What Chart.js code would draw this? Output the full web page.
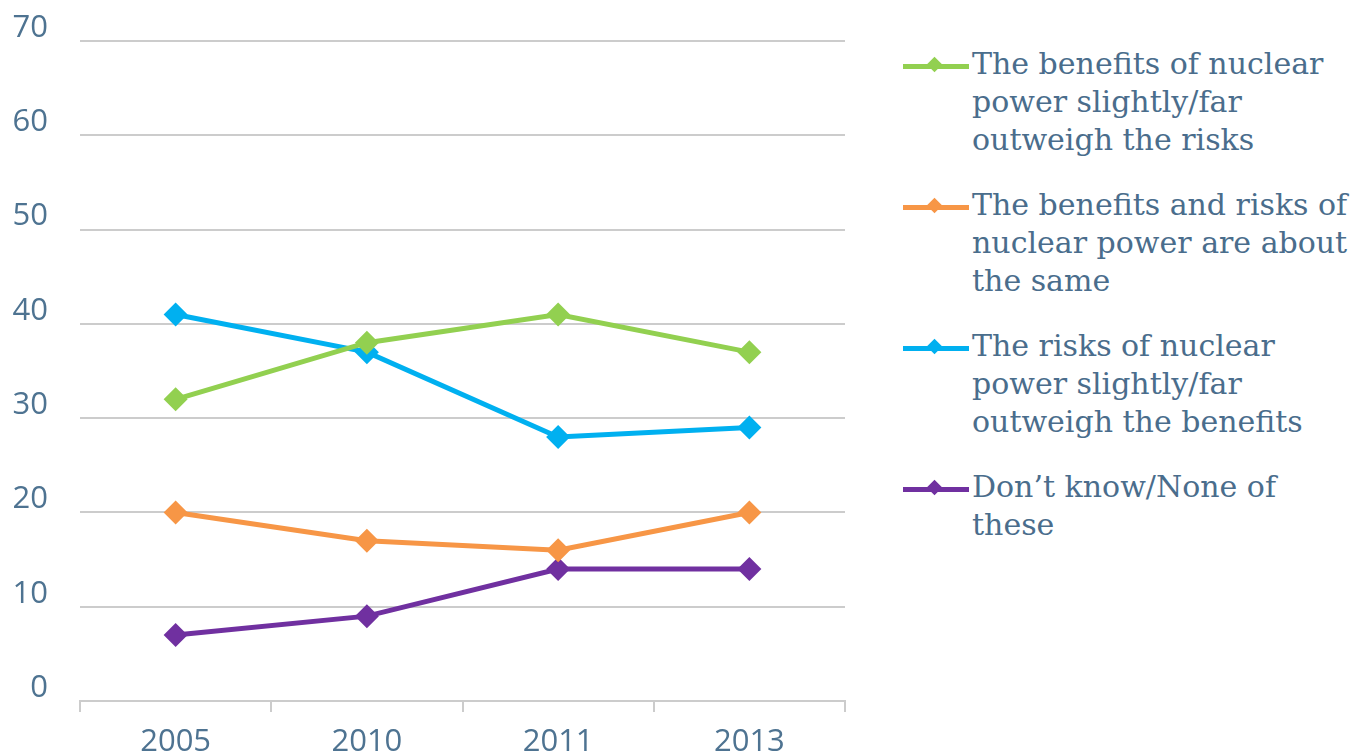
<!DOCTYPE html>
<html>
<head>
<meta charset="utf-8">
<script src="https://cdn.jsdelivr.net/npm/chart.js@4.4.1/dist/chart.umd.min.js"></script>
<style>
  html, body { margin: 0; padding: 0; background: #fff; }
  #wrap { position: relative; width: 1353px; height: 752px; overflow: hidden; }
  #chartBox { position: absolute; left: 0; top: 0; width: 870px; height: 752px; }
  #legend { position: absolute; left: 903px; top: 45px; width: 450px;
    font-family: "DejaVu Serif", serif; font-size: 30px;
    line-height: 38px; color: #4a6d8c; }
  .item { position: relative; padding-left: 69px; margin-bottom: 27px; white-space: nowrap; }
  .item .ln { position: absolute; left: 0; top: 19px; width: 66px; height: 5px; }
  .item .dm { position: absolute; left: 26px; top: 14px; width: 11px; height: 11px; transform: rotate(45deg); }
</style>
</head>
<body>
<div id="wrap">
  <div id="chartBox"><canvas id="myChart"></canvas></div>
  <div id="legend"></div>
</div>
<script>
// Dados do gráfico
const anos = ['2005', '2010', '2011', '2013'];
const beneficiosMaiores = [32, 38, 41, 37];
const beneficiosIguais = [20, 17, 16, 20];
const riscosMaiores = [41, 37, 28, 29];
const naoSabe = [7, 9, 14, 14];
const yTicks = [0, 10, 20, 30, 40, 50, 60, 70];

const series = [
  { label: 'The benefits of nuclear power slightly/far outweigh the risks', data: beneficiosMaiores, color: '#92d050' },
  { label: 'The benefits and risks of nuclear power are about the same', data: beneficiosIguais, color: '#f79646' },
  { label: 'The risks of nuclear power slightly/far outweigh the benefits', data: riscosMaiores, color: '#00b0f0' },
  { label: 'Don\u2019t know/None of these', data: naoSabe, color: '#7030a0' }
];

const corTexto = '#4e7391';
const corGrade = '#cccccc';

const data = {
  labels: anos,
  datasets: series.map(s => ({
    label: s.label,
    data: s.data,
    borderColor: s.color,
    backgroundColor: s.color,
    borderWidth: 5,
    pointStyle: 'rectRot',
    pointRadius: 12,
    pointHoverRadius: 12,
    pointBorderWidth: 0,
    tension: 0
  }))
};

const options = {
  responsive: false,
  animation: false,
  layout: { padding: { top: 41, right: 25, left: 0, bottom: 0 } },
  plugins: { legend: { display: false }, tooltip: { enabled: false } },
  scales: {
    x: {
      offset: true,
      grid: { offset: true, drawOnChartArea: false, color: corGrade, lineWidth: 2, tickLength: 11 },
      border: { color: corGrade, width: 2 },
      ticks: { color: corTexto, font: { family: 'Open Sans', size: 31 }, padding: 12 },
      afterFit: function(scale) { scale.height = 51; }
    },
    y: {
      min: 0,
      max: 70,
      afterBuildTicks: function(scale) { scale.ticks = yTicks.map(v => ({ value: v })); },
      grid: { color: function(ctx) { return ctx.tick.value === 0 ? 'rgba(0,0,0,0)' : corGrade; }, lineWidth: 2, drawTicks: false },
      border: { display: false },
      ticks: { color: corTexto, font: { family: 'Open Sans', size: 31 }, padding: 32, labelOffset: -13 },
      afterFit: function(scale) {
        scale.width = 80;
        scale.paddingTop = 0;
        scale.paddingBottom = 0;
      }
    }
  }
};

const ctx = document.getElementById('myChart');
ctx.width = 870;
ctx.height = 752;
const myChart = new Chart(ctx.getContext('2d'), { type: 'line', data: data, options: options });

// Legenda em HTML
const legendLines = [
  ['The benefits of nuclear', 'power slightly/far', 'outweigh the risks'],
  ['The benefits and risks of', 'nuclear power are about', 'the same'],
  ['The risks of nuclear', 'power slightly/far', 'outweigh the benefits'],
  ['Don\u2019t know/None of', 'these']
];
const legend = document.getElementById('legend');
series.forEach((s, i) => {
  const item = document.createElement('div');
  item.className = 'item';
  item.innerHTML = '<div class="ln" style="background:' + s.color + '"></div>' +
    '<div class="dm" style="background:' + s.color + '"></div>' +
    legendLines[i].join('<br>');
  legend.appendChild(item);
});
</script>
</body>
</html>
